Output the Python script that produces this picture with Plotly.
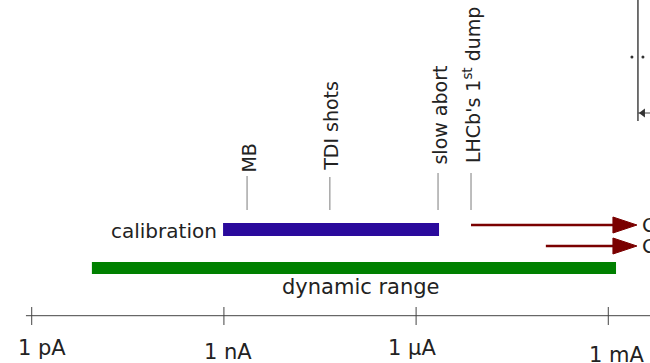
import numpy as np
import plotly.graph_objects as go

# ---------------- data (currents in ampere) ----------------
tick_currents = [1e-12, 1e-9, 1e-6, 1e-3]
tick_labels = ["1 pA", "1 nA", "1 µA", "1 mA"]

range_names = ["dynamic range", "calibration"]
range_lo = [8.7e-12, 9.7e-10]
range_hi = [1.32e-3, 2.28e-6]

event_names = ["MB", "TDI shots", "slow abort", "LHCb's 1<sup>st</sup> dump"]
event_currents = [2.3e-9, 4.5e-8, 2.2e-6, 7.2e-6]

arrow_start = [7.2e-6, 1.06e-4]
arrow_end = [2.8e-3, 2.8e-3]
arrow_labels = ["C", "C"]

# ---------------- styling ----------------
PX_PER_DEC = 64.07
X_RANGE = [-12.495, -2.349]          # log10(A) shown across the 650 px
FONT = "DejaVu Sans"
TXT = "#222222"

lg = lambda a: float(np.log10(a))

fig = go.Figure()

# axis line + ticks
axis_y = 315.7
fig.add_trace(go.Scatter(x=[-12.09, X_RANGE[1]], y=[axis_y, axis_y], mode="lines",
                         line=dict(color="#444444", width=1), hoverinfo="skip"))
for t in tick_currents:
    fig.add_trace(go.Scatter(x=[lg(t), lg(t)], y=[307, 325], mode="lines",
                             line=dict(color="#444444", width=1), hoverinfo="skip"))

label_y = [348, 352, 348, 355]
label_dx = [10, 4, -4, 8]
for t, lab, yy, dx in zip(tick_currents, tick_labels, label_y, label_dx):
    fig.add_annotation(x=lg(t), y=yy, text=lab, showarrow=False, xshift=dx,
                       xanchor="center", yanchor="middle",
                       font=dict(family=FONT, size=21, color=TXT))

# range bars
bar_style = {
    "dynamic range": dict(y=268, w=12, color="#008000"),
    "calibration": dict(y=229.5, w=13, color="#2a0a9c"),
}
for name, lo, hi in zip(range_names, range_lo, range_hi):
    s = bar_style[name]
    fig.add_trace(go.Bar(orientation="h", base=[lg(lo)], x=[lg(hi) - lg(lo)], y=[s["y"]],
                         width=s["w"], marker=dict(color=s["color"], line=dict(width=0)),
                         hoverinfo="skip"))

# bar labels
fig.add_annotation(x=lg(range_lo[1]), y=231, text=range_names[1], showarrow=False,
                   xanchor="right", yanchor="middle", xshift=-4,
                   font=dict(family=FONT, size=20, color=TXT))
fig.add_annotation(x=(lg(range_lo[0]) + lg(range_hi[0])) / 2, y=287, text=range_names[0],
                   showarrow=False, xanchor="center", yanchor="middle", xshift=7,
                   font=dict(family=FONT, size=21, color=TXT))

# event leader lines + rotated labels
line_top = [176, 177, 173, 173]
text_bottom = [174, 172, 166, 164]
for name, c, lt, tb in zip(event_names, event_currents, line_top, text_bottom):
    fig.add_trace(go.Scatter(x=[lg(c), lg(c)], y=[lt, 210], mode="lines",
                             line=dict(color="#a8a8a8", width=1.5), hoverinfo="skip"))
    fig.add_annotation(x=lg(c), y=tb, text=name, showarrow=False, textangle=-90,
                       xanchor="center", yanchor="bottom", xshift=1, borderpad=0,
                       font=dict(family=FONT, size=19, color=TXT))

# arrows to the right
arrow_y = [225, 246]
head_len = 24 / PX_PER_DEC
for s, e, yy, lab in zip(arrow_start, arrow_end, arrow_y, arrow_labels):
    tip = lg(e)
    base = tip - head_len
    fig.add_trace(go.Scatter(x=[lg(s), base + 0.02], y=[yy, yy], mode="lines",
                             line=dict(color="#7a0000", width=2.5), hoverinfo="skip"))
    fig.add_trace(go.Scatter(x=[base, tip, base, base], y=[yy - 8, yy, yy + 8, yy - 8],
                             mode="lines", fill="toself", fillcolor="#7a0000",
                             line=dict(color="#7a0000", width=1), hoverinfo="skip"))
    fig.add_annotation(x=tip, y=yy, text=lab, showarrow=False, xanchor="left",
                       yanchor="middle", xshift=3,
                       font=dict(family=FONT, size=20, color=TXT))

# fragment of neighbouring element at top right
vx = lg(arrow_end[0]) + 1 / PX_PER_DEC
fig.add_trace(go.Scatter(x=[vx, vx], y=[0, 121], mode="lines",
                         line=dict(color="#444444", width=1.5), hoverinfo="skip"))
fig.add_trace(go.Scatter(x=[vx - 6 / PX_PER_DEC, vx + 5 / PX_PER_DEC], y=[57, 57],
                         mode="markers", marker=dict(color="#333333", size=3),
                         hoverinfo="skip"))
fig.add_trace(go.Scatter(x=[vx, X_RANGE[1]], y=[113, 113], mode="lines",
                         line=dict(color="#444444", width=1), hoverinfo="skip"))
fig.add_trace(go.Scatter(x=[vx + 5 / PX_PER_DEC], y=[113], mode="markers",
                         marker=dict(symbol="triangle-left", color="#333333", size=8),
                         hoverinfo="skip"))

fig.update_layout(
    width=650, height=363, margin=dict(l=0, r=0, t=0, b=0),
    paper_bgcolor="white", plot_bgcolor="white", showlegend=False,
    barmode="overlay",
    xaxis=dict(range=X_RANGE, visible=False, fixedrange=True),
    yaxis=dict(range=[363, 0], visible=False, fixedrange=True),
)
fig.write_html("out.html", config={"displayModeBar": False},
               post_script="document.body.style.margin='0';document.body.style.overflow='hidden';")
